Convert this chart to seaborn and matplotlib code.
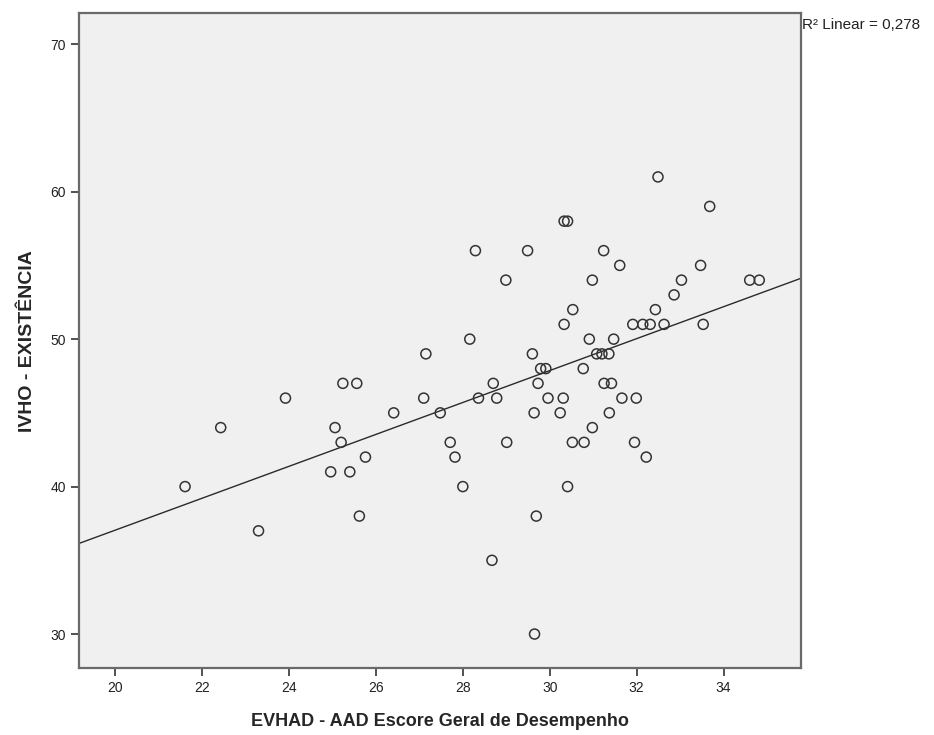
import matplotlib
matplotlib.use("Agg")
import matplotlib.pyplot as plt
import seaborn as sns
import numpy as np
import pandas as pd

# EVHAD - AAD general performance score
evhad = [28.29, 29.49, 31.24, 28.99, 30.98, 33.03, 34.60, 34.82, 28.16, 30.91,
         31.47, 32.49, 33.68, 30.33, 30.41, 31.61, 33.47, 32.86, 30.53, 32.43,
         30.33, 31.91, 32.14, 32.31, 32.63, 33.53, 27.15, 29.60, 31.08, 31.20,
         31.36, 29.79, 29.91, 30.77, 25.24, 25.56, 28.70, 29.73, 31.25, 31.42,
         23.92, 27.10, 28.36, 28.78, 29.96, 30.31, 31.66, 31.99, 26.41, 27.48,
         29.64, 30.24, 31.37, 22.43, 25.06, 30.98, 25.20, 27.71, 29.01, 30.52,
         30.79, 31.95, 25.76, 27.82, 32.22, 24.96, 25.40, 21.61, 28.00, 30.41,
         23.30, 25.62, 29.69, 28.67, 29.65]

# IVHO - existence score
ivho = [56, 56, 56, 54, 54, 54, 54, 54, 50, 50,
        50, 61, 59, 58, 58, 55, 55, 53, 52, 52,
        51, 51, 51, 51, 51, 51, 49, 49, 49, 49,
        49, 48, 48, 48, 47, 47, 47, 47, 47, 47,
        46, 46, 46, 46, 46, 46, 46, 46, 45, 45,
        45, 45, 45, 44, 44, 44, 43, 43, 43, 43,
        43, 43, 42, 42, 42, 41, 41, 40, 40, 40,
        37, 38, 38, 35, 30]

x_ticks = [20, 22, 24, 26, 28, 30, 32, 34]
y_ticks = [30, 40, 50, 60, 70]
r2_label = "R\u00b2 Linear = 0,278"

df = pd.DataFrame({"evhad": evhad, "ivho": ivho})

sns.set_style("ticks")
plt.rcParams["font.family"] = ["Liberation Sans", "DejaVu Sans"]

fig = plt.figure(figsize=(9.34, 7.35), dpi=100)
ax = fig.add_axes([0.0846, 0.0912, 0.773, 0.8908])
ax.set_facecolor("#f0f0f0")

ax.set_xlim(19.17, 35.78)
ax.set_ylim(27.7, 72.1)

sns.scatterplot(data=df, x="evhad", y="ivho", ax=ax, marker="o", s=52,
                facecolors="none", edgecolor="#333333", linewidth=1.1,
                zorder=3)
sns.regplot(data=df, x="evhad", y="ivho", ax=ax, scatter=False, ci=None,
            truncate=False, line_kws={"color": "#2a2a2a", "linewidth": 1.0})

ax.set_xlim(19.17, 35.78)
ax.set_ylim(27.7, 72.1)
ax.set_xticks(x_ticks)
ax.set_yticks(y_ticks)
ax.tick_params(axis="both", direction="out", length=6, width=1.2,
               color="#333333", labelsize=10, labelcolor="#222222")

for side in ["left", "right", "top", "bottom"]:
    ax.spines[side].set_visible(True)
    ax.spines[side].set_color("#6a6a6a")
    ax.spines[side].set_linewidth(1.6)

ax.set_xlabel("EVHAD - AAD Escore Geral de Desempenho", fontsize=13,
              fontweight="bold", labelpad=13)
ax.set_ylabel("IVHO - EXISTÊNCIA", fontsize=14, fontweight="bold",
              labelpad=10)

ax.text(1.002, 0.982, r2_label, transform=ax.transAxes, fontsize=11,
        ha="left", va="center", color="#222222")

fig.savefig("out.png", dpi=100)
